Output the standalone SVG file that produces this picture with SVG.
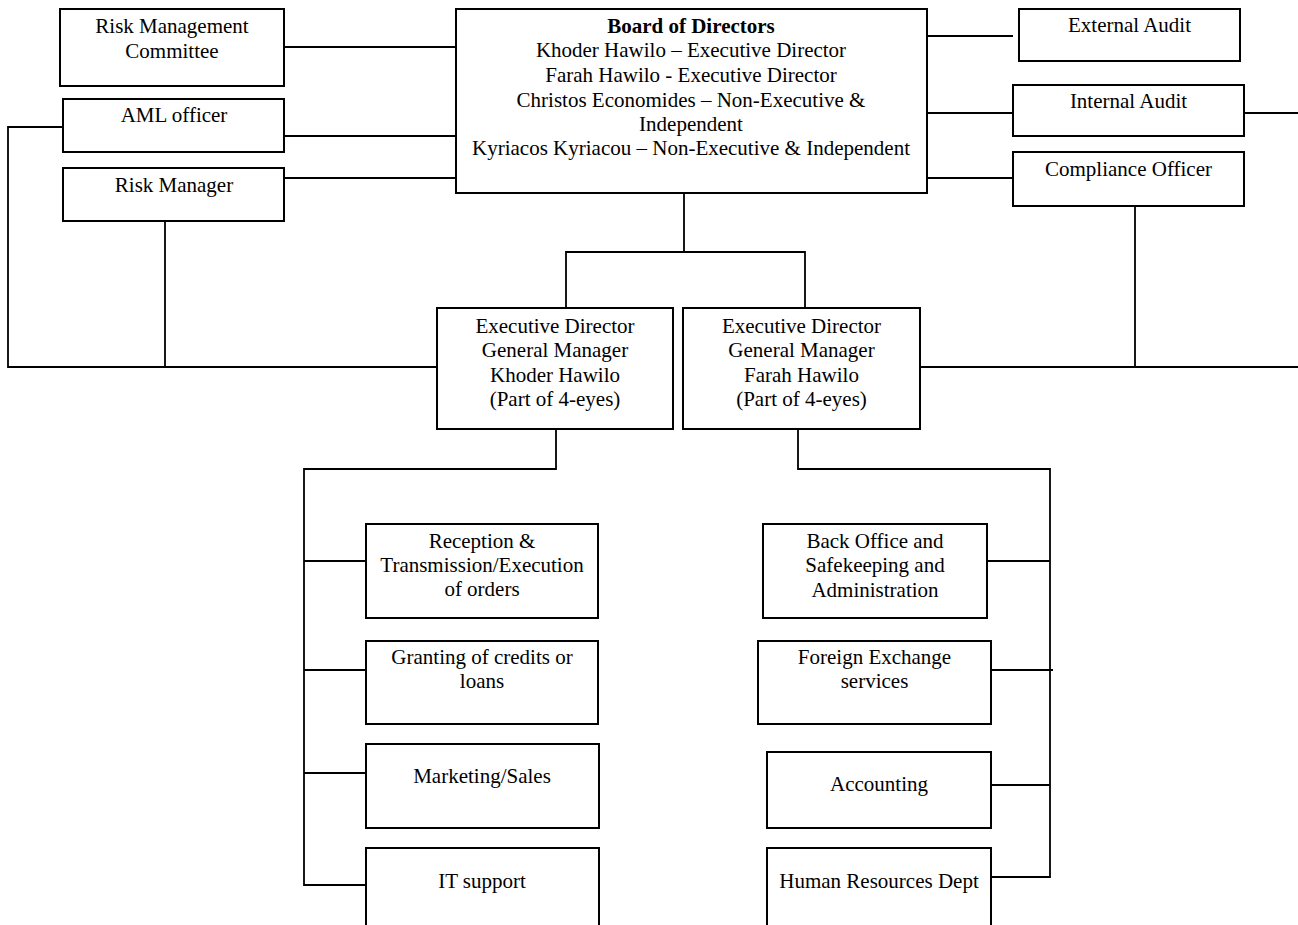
<svg xmlns="http://www.w3.org/2000/svg" width="1298" height="925" viewBox="0 0 1298 925">
<style>
.box{fill:#fff;stroke:#000;stroke-width:2}
.ln{fill:none;stroke:#000;stroke-width:1.8}
text{font-family:"Liberation Serif","Times New Roman",serif;font-size:21px;fill:#000;text-anchor:middle}
.b{font-weight:bold}
</style>
<rect width="1298" height="925" fill="#fff"/>
<g id="connectors">
<path class="ln" d="M284 47H456M284 136H456M284 178H456"/>
<path class="ln" d="M927 36H1013M927 113H1013M927 178H1013M1244 113H1298"/>
<path class="ln" d="M63 127H8V367H437M165 221V367"/>
<path class="ln" d="M1135 206V367M920 367H1298"/>
<path class="ln" d="M684 193V252M566 308V252H805V308"/>
<path class="ln" d="M556 429V469H304V885H366M304 561H366M304 670H366M304 773H366"/>
<path class="ln" d="M798 429V469H1050V877H991M987 561H1050M991 670H1053M991 785H1050"/>
</g>
<g id="rmc"><rect class="box" x="60" y="9" width="224" height="77"/><text x="172" y="33">Risk Management</text><text x="172" y="58">Committee</text></g>
<g id="aml"><rect class="box" x="63" y="99" width="221" height="53"/><text x="174" y="122">AML officer</text></g>
<g id="riskmgr"><rect class="box" x="63" y="168" width="221" height="53"/><text x="174" y="192">Risk Manager</text></g>
<g id="board"><rect class="box" x="456" y="9" width="471" height="184"/>
<text class="b" x="691" y="33">Board of Directors</text>
<text x="691" y="57">Khoder Hawilo – Executive Director</text>
<text x="691" y="82">Farah Hawilo - Executive Director</text>
<text x="691" y="107">Christos Economides – Non-Executive &amp;</text>
<text x="691" y="131">Independent</text>
<text x="691" y="155">Kyriacos Kyriacou – Non-Executive &amp; Independent</text>
</g>
<g id="extaudit"><rect class="box" x="1019" y="9" width="221" height="52"/><text x="1129.5" y="32">External Audit</text></g>
<g id="intaudit"><rect class="box" x="1013" y="85" width="231" height="51"/><text x="1128.5" y="108">Internal Audit</text></g>
<g id="compliance"><rect class="box" x="1013" y="152" width="231" height="54"/><text x="1128.5" y="176">Compliance Officer</text></g>
<g id="ed1"><rect class="box" x="437" y="308" width="236" height="121"/>
<text x="555" y="333">Executive Director</text><text x="555" y="357">General Manager</text><text x="555" y="382">Khoder Hawilo</text><text x="555" y="406">(Part of 4-eyes)</text></g>
<g id="ed2"><rect class="box" x="683" y="308" width="237" height="121"/>
<text x="801.5" y="333">Executive Director</text><text x="801.5" y="357">General Manager</text><text x="801.5" y="382">Farah Hawilo</text><text x="801.5" y="406">(Part of 4-eyes)</text></g>
<g id="reception"><rect class="box" x="366" y="524" width="232" height="94"/>
<text x="482" y="548">Reception &amp;</text><text x="482" y="572">Transmission/Execution</text><text x="482" y="596">of orders</text></g>
<g id="granting"><rect class="box" x="366" y="641" width="232" height="83"/>
<text x="482" y="664">Granting of credits or</text><text x="482" y="688">loans</text></g>
<g id="marketing"><rect class="box" x="366" y="744" width="233" height="84"/><text x="482" y="783">Marketing/Sales</text></g>
<g id="itsupport"><rect class="box" x="366" y="848" width="233" height="80"/><text x="482" y="888">IT support</text></g>
<g id="backoffice"><rect class="box" x="763" y="524" width="224" height="94"/>
<text x="875" y="548">Back Office and</text><text x="875" y="572">Safekeeping and</text><text x="875" y="597">Administration</text></g>
<g id="forex"><rect class="box" x="758" y="641" width="233" height="83"/>
<text x="874.5" y="664">Foreign Exchange</text><text x="874.5" y="688">services</text></g>
<g id="accounting"><rect class="box" x="767" y="752" width="224" height="76"/><text x="879" y="791">Accounting</text></g>
<g id="hr"><rect class="box" x="767" y="848" width="224" height="80"/><text x="879" y="888">Human Resources Dept</text></g>
</svg>
